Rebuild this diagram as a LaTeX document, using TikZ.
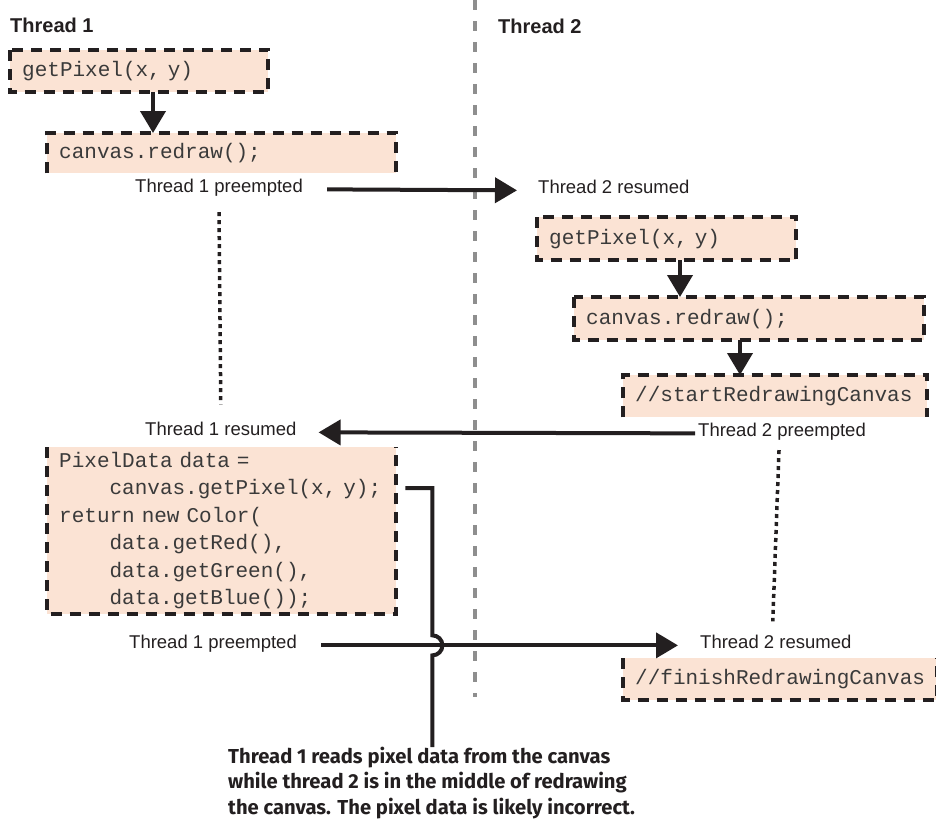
\documentclass[tikz,border=0pt]{standalone}
\usepackage{fontspec}
\setmainfont{Liberation Sans}
\setmonofont{Liberation Mono}
\newfontfamily\notefont{Fira Sans}
\usetikzlibrary{arrows.meta,calc}

\definecolor{boxfill}{HTML}{FBE3D4}
\definecolor{ink}{HTML}{231F20}
\definecolor{codeink}{HTML}{3A3A3A}
\definecolor{lanegray}{HTML}{8E8E8E}

\begin{document}
\begin{tikzpicture}[x=1pt,y=-1pt,
  codebox/.style={fill=boxfill, anchor=north west, inner xsep=12pt, inner ysep=0pt,
    align=left, text=codeink, font=\ttfamily\fontsize{21}{27.5}\selectfont},
  boxedge/.style={draw=ink, line width=4pt, dash pattern=on 11pt off 8pt},
  lbl/.style={inner sep=0pt, anchor=base west, text=ink, font=\fontsize{18.5}{22}\selectfont},
  head/.style={inner sep=0pt, anchor=base west, text=ink, font=\bfseries\fontsize{20}{24}\selectfont},
  flow/.style={draw=ink, line width=4pt, -{Triangle[length=22pt,width=25pt]}},
  wait/.style={draw=ink, line width=3.5pt, dash pattern=on 4pt off 4pt},
  lane/.style={draw=lanegray, line width=3.5pt, dash pattern=on 10pt off 11pt},
  callout/.style={draw=ink, line width=4pt},
]
\useasboundingbox (0,0) rectangle (936,820);
\clip (0,0) rectangle (936,820);

% lane divider between the two threads
\coordinate (laneTop) at (475,0);
\coordinate (laneBot) at (475,697);
\draw[lane] (laneTop) -- (laneBot);

% column headings
\node[head] (h1) at (10,32) {Thread 1};
\node[head] (h2) at (498,33) {Thread 2};

% code blocks
\node[codebox, text width=234pt, minimum height=42pt] (b1) at (10,50) {getPixel(x, y)};
\node[codebox, text width=325pt, minimum height=40pt] (b2) at (47,133) {canvas.redraw();};
\node[codebox, text width=235pt, minimum height=43pt] (b3) at (537,217) {getPixel(x, y)};
\node[codebox, text width=326pt, minimum height=43pt] (b4) at (574,297) {canvas.redraw();};
\node[codebox, text width=280pt, minimum height=42pt] (b5) at (623,375) {//startRedrawingCanvas};
\node[codebox, text width=325pt, minimum height=167pt] (b6) at (47,447) {PixelData data =\\
\hspace*{2.4em}canvas.getPixel(x, y);\\
return new Color(\\
\hspace*{2.4em}data.getRed(),\\
\hspace*{2.4em}data.getGreen(),\\
\hspace*{2.4em}data.getBlue());};
\node[codebox, text width=290pt, minimum height=42pt] (b7) at (623,658) {//finishRedrawingCanvas};

% dashed outlines of the code blocks
\draw[boxedge] (b1.north west) rectangle (b1.south east);
\draw[boxedge] (b2.south west) -- (b2.north west) -- (b2.north east) -- (b2.south east);
\draw[boxedge] (b3.north west) rectangle (b3.south east);
\draw[boxedge] (b4.north west) rectangle (b4.south east);
\draw[boxedge] (b5.south west) -- (b5.north west) -- (b5.north east) -- (b5.south east);
\draw[boxedge] (b6.north west) -- (b6.south west) -- (b6.south east) -- (b6.north east);
\draw[boxedge] (b7.north west) -- (b7.south west) -- (b7.south east) -- (b7.north east);

% sequential steps within each thread
\draw[flow] ([xshift=143pt]b1.south west) -- ([xshift=143pt]b1.south west |- b2.north);
\draw[flow] ([xshift=143pt]b3.south west) -- ([xshift=143pt]b3.south west |- b4.north);
\draw[flow] ([xshift=166pt]b4.south west) -- ([xshift=166pt]b4.south west |- b5.north);

% scheduler events
\node[lbl] (p1) at (135,192) {Thread 1 preempted};
\node[lbl] (r2) at (538,193) {Thread 2 resumed};
\node[lbl] (r1) at (145,435) {Thread 1 resumed};
\node[lbl] (p2) at (698,436) {Thread 2 preempted};
\node[lbl] (p1b) at (129,648) {Thread 1 preempted};
\node[lbl] (r2b) at (700,648) {Thread 2 resumed};

% context switches
\draw[flow] ([xshift=24pt]p1.mid east) -- ([xshift=-21pt]r2.mid west);
\draw[flow] ([xshift=-3pt]p2.mid west) -- ([xshift=22pt]r1.mid east);
\draw[flow] ([xshift=24pt]p1b.mid east) -- ([xshift=-22pt]r2b.mid west);

% idle periods
\draw[wait] ([yshift=-16pt]p1.south) -- ([yshift=17pt]r1.north);
\draw[wait] ([xshift=-3pt,yshift=-10pt]p2.south) -- ([xshift=-3pt,yshift=13pt]r2b.north);

% explanatory note
\node[inner sep=0pt, anchor=north west, align=left, text=ink,
      font=\notefont\bfseries\fontsize{20.2}{25.4}\selectfont] (note) at (228,747)
  {Thread 1 reads pixel data from the canvas\\
   while thread 2 is in the middle of redrawing\\
   the canvas. The pixel data is likely incorrect.};

\coordinate (cs) at ($(b6.north east)+(9,41)$);
\coordinate (cx) at ($(b6.north east)+(36,41)$);
\coordinate (hopc) at (cx |- p1b.mid east);
\draw[callout] (cs) -- (cx) -- ([yshift=10pt]hopc)
  arc[start angle=90, end angle=-90, radius=10pt] -- (cx |- note.north);
\end{tikzpicture}
\end{document}
